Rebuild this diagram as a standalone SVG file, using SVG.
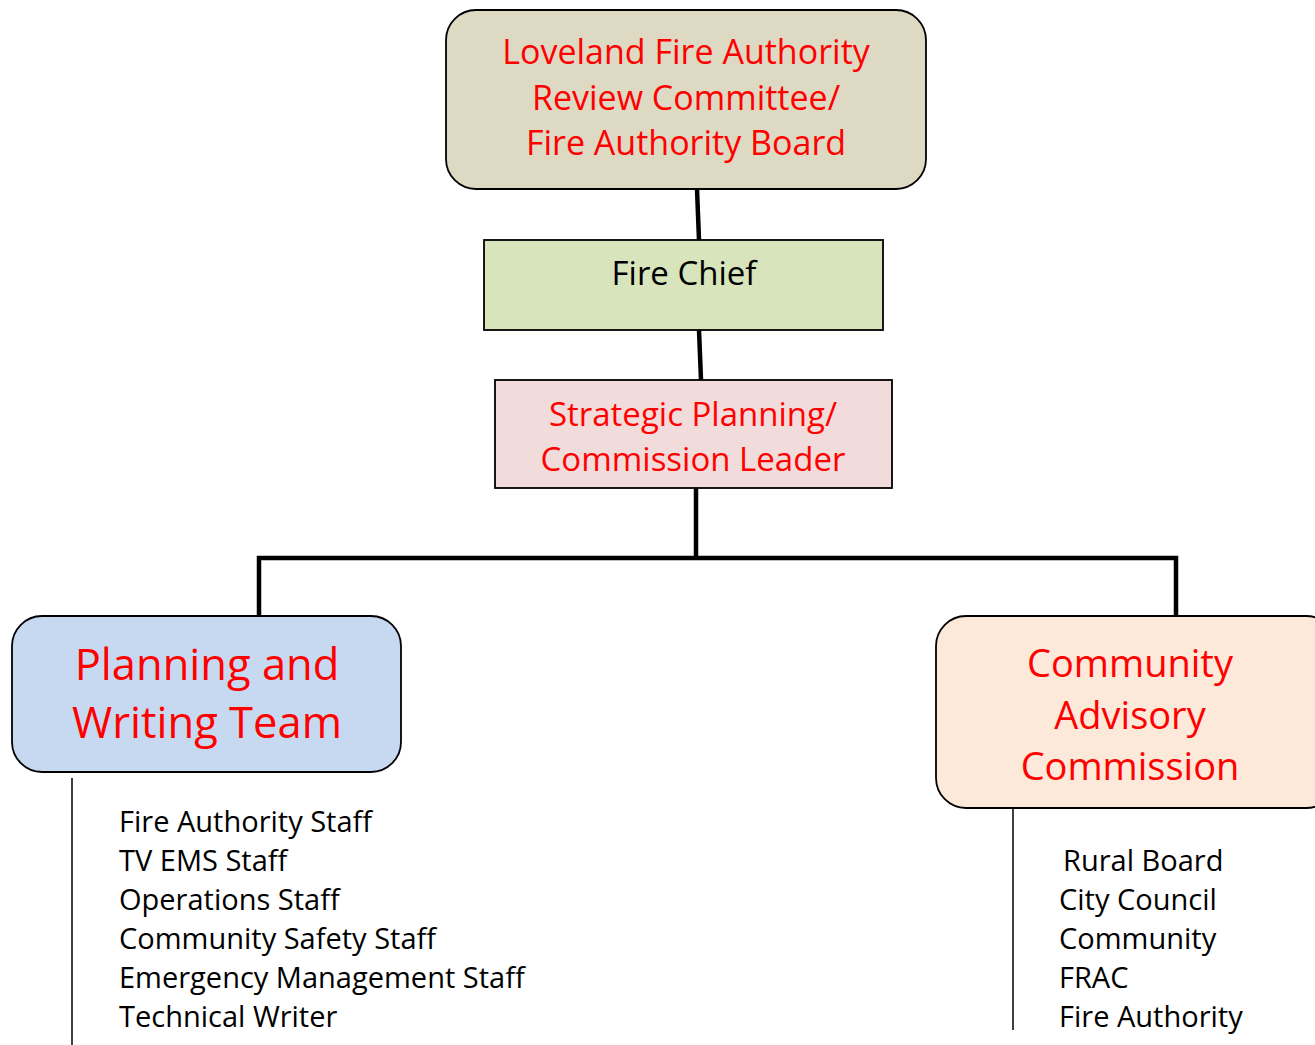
<svg xmlns="http://www.w3.org/2000/svg" width="1315" height="1045" viewBox="0 0 1315 1045">
<style>
text{font-family:"Open Sans","Noto Sans","Liberation Sans",sans-serif;text-anchor:middle}
.red{fill:#FF0000}
.blk{fill:#000}
.box{stroke:#000;stroke-width:1.8}
.conn{stroke:#000;stroke-width:4.5;fill:none}
.thin{stroke:#000;stroke-width:1.5;fill:none}
.list{text-anchor:start;font-size:29px;fill:#000}
</style>
<rect width="1315" height="1045" fill="#fff"/>
<g id="connectors">
<line class="conn" x1="697" y1="189" x2="699" y2="240"/>
<line class="conn" x1="699" y1="330" x2="701" y2="380"/>
<line class="conn" x1="696" y1="488" x2="696" y2="558"/>
<polyline class="conn" points="259,616 259,558 1176,558 1176,616"/>
<line class="thin" x1="72" y1="778" x2="72" y2="1045"/>
<line class="thin" x1="1013" y1="808" x2="1013" y2="1030"/>
</g>
<g id="board">
<rect class="box" x="446" y="10" width="480" height="179" rx="30" fill="#DDD9C3"/>
<text class="red" font-size="34" x="686" y="64">Loveland Fire Authority</text>
<text class="red" font-size="34" x="686" y="110">Review Committee/</text>
<text class="red" font-size="34" x="686" y="155">Fire Authority Board</text>
</g>
<g id="chief">
<rect class="box" x="484" y="240" width="399" height="90" fill="#D7E4BC"/>
<text class="blk" font-size="33" x="684" y="285">Fire Chief</text>
</g>
<g id="strategic">
<rect class="box" x="495" y="380" width="397" height="108" fill="#F2DCDB"/>
<text class="red" font-size="33" x="693" y="426">Strategic Planning/</text>
<text class="red" font-size="33" x="693" y="471">Commission Leader</text>
</g>
<g id="planning">
<rect class="box" x="12" y="616" width="389" height="156" rx="30" fill="#C6D9F1"/>
<text class="red" font-size="43.5" x="207" y="680">Planning and</text>
<text class="red" font-size="43.5" x="207" y="738">Writing Team</text>
</g>
<g id="community">
<rect class="box" x="936" y="616" width="400" height="192" rx="30" fill="#FDE9D9"/>
<text class="red" font-size="38" x="1130" y="677">Community</text>
<text class="red" font-size="38" x="1130" y="729">Advisory</text>
<text class="red" font-size="38" x="1130" y="780">Commission</text>
</g>
<g id="planning-members">
<text class="list" x="119" y="832">Fire Authority Staff</text>
<text class="list" x="119" y="871">TV EMS Staff</text>
<text class="list" x="119" y="910">Operations Staff</text>
<text class="list" x="119" y="949">Community Safety Staff</text>
<text class="list" x="119" y="988">Emergency Management Staff</text>
<text class="list" x="119" y="1027">Technical Writer</text>
</g>
<g id="community-members">
<text class="list" x="1063" y="871">Rural Board</text>
<text class="list" x="1059" y="910">City Council</text>
<text class="list" x="1059" y="949">Community</text>
<text class="list" x="1059" y="988">FRAC</text>
<text class="list" x="1059" y="1027">Fire Authority</text>
</g>
</svg>
